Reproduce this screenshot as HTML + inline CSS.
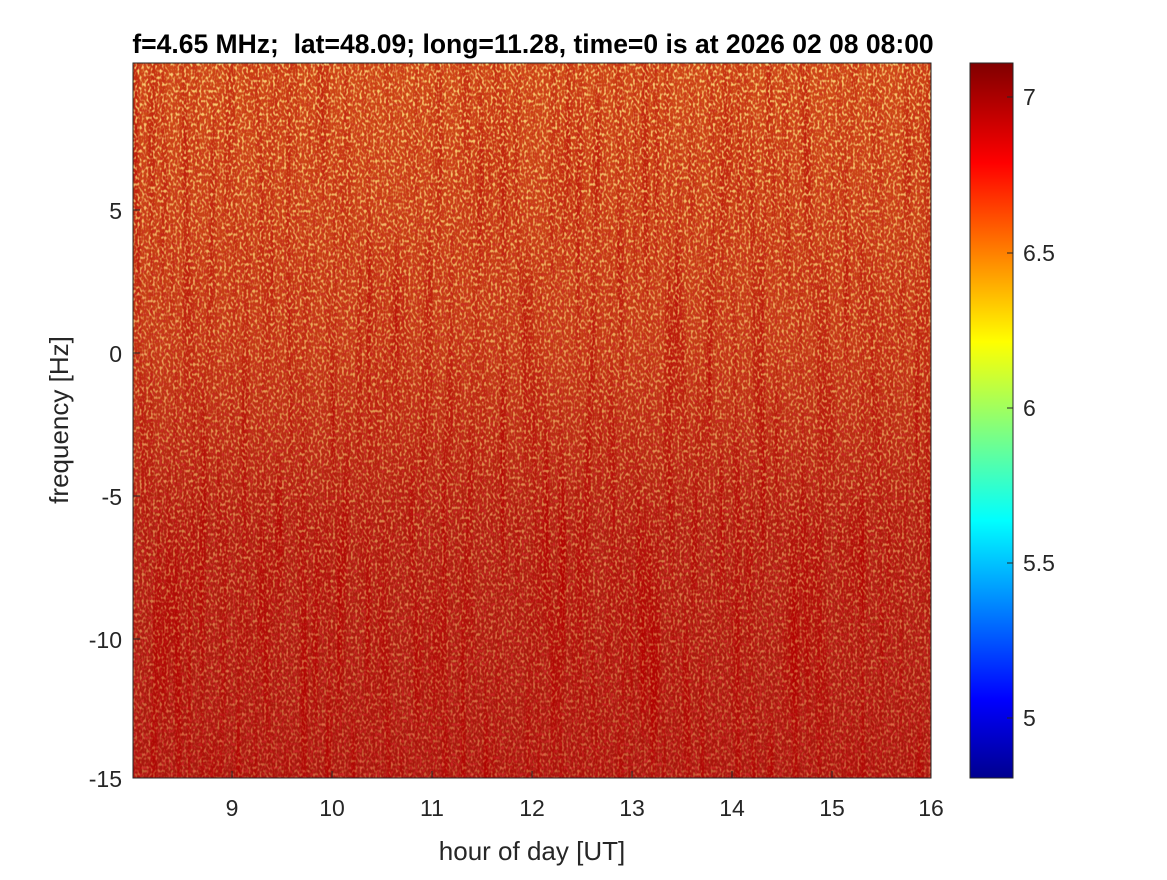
<!DOCTYPE html>
<html><head><meta charset="utf-8"><style>
html,body{margin:0;padding:0;background:#fff;}
svg text{font-family:"Liberation Sans",Arial,sans-serif;fill:#262626;}
</style></head><body>
<svg width="1167" height="875" xmlns="http://www.w3.org/2000/svg">
<defs>
<linearGradient id="bg" x1="0" y1="0" x2="0" y2="1">
<stop offset="0" stop-color="#d04c18"/>
<stop offset="0.4" stop-color="#c43c16"/>
<stop offset="0.65" stop-color="#ae2010"/>
<stop offset="1" stop-color="#a8180e"/>
</linearGradient>
<linearGradient id="jet" x1="0" y1="1" x2="0" y2="0">
<stop offset="0" stop-color="#00008f"/>
<stop offset="0.11" stop-color="#0000ff"/>
<stop offset="0.36" stop-color="#00ffff"/>
<stop offset="0.61" stop-color="#ffff00"/>
<stop offset="0.86" stop-color="#ff0000"/>
<stop offset="1" stop-color="#800000"/>
</linearGradient>
<linearGradient id="fade" x1="0" y1="0" x2="0" y2="1">
<stop offset="0" stop-color="#fff" stop-opacity="0.9"/>
<stop offset="0.5" stop-color="#fff" stop-opacity="0.6"/>
<stop offset="1" stop-color="#fff" stop-opacity="0.35"/>
</linearGradient>
<linearGradient id="fade2" x1="0" y1="0" x2="0" y2="1">
<stop offset="0" stop-color="#fff" stop-opacity="0.4"/>
<stop offset="0.6" stop-color="#fff" stop-opacity="0.8"/>
<stop offset="1" stop-color="#fff" stop-opacity="0.9"/>
</linearGradient>
<mask id="m"><rect x="133" y="63" width="798" height="715" fill="url(#fade)"/></mask>
<mask id="m2"><rect x="133" y="63" width="798" height="715" fill="url(#fade2)"/></mask>
<filter id="speck" x="0" y="0" width="100%" height="100%">
<feTurbulence type="fractalNoise" baseFrequency="0.45 0.3" numOctaves="1" seed="3"/>
<feColorMatrix type="matrix" values="0 0 0 0 1  0 0 0 0 0.72  0 0 0 0 0.2  4 0 0 0 -1.9"/>
</filter>
<filter id="speck2" x="0" y="0" width="100%" height="100%">
<feTurbulence type="fractalNoise" baseFrequency="0.45 0.3" numOctaves="1" seed="11"/>
<feColorMatrix type="matrix" values="0 0 0 0 0.6  0 0 0 0 0.02  0 0 0 0 0.02  4 0 0 0 -1.8"/>
</filter>
<filter id="streak" x="0" y="0" width="100%" height="100%">
<feTurbulence type="fractalNoise" baseFrequency="0.12 0.004" numOctaves="2" seed="7"/>
<feColorMatrix type="matrix" values="0 0 0 0 0.45  0 0 0 0 0  0 0 0 0 0  3 0 0 0 -1.4"/>
</filter>
</defs>
<rect x="133" y="63" width="798" height="715" fill="url(#bg)"/>
<rect x="133" y="63" width="798" height="715" filter="url(#speck2)" mask="url(#m2)"/>
<rect x="133" y="63" width="798" height="715" filter="url(#streak)" mask="url(#m2)"/>
<rect x="133" y="63" width="798" height="715" filter="url(#speck)" mask="url(#m)"/>
<rect x="133" y="63" width="798" height="715" fill="none" stroke="#262626" stroke-width="1"/>
<g stroke="#262626" stroke-width="1">
<line x1="232" y1="778" x2="232" y2="771"/><line x1="332" y1="778" x2="332" y2="771"/>
<line x1="432" y1="778" x2="432" y2="771"/><line x1="532" y1="778" x2="532" y2="771"/>
<line x1="632" y1="778" x2="632" y2="771"/><line x1="732" y1="778" x2="732" y2="771"/>
<line x1="832" y1="778" x2="832" y2="771"/>
<line x1="133" y1="210" x2="140" y2="210"/><line x1="133" y1="353" x2="140" y2="353"/>
<line x1="133" y1="496" x2="140" y2="496"/><line x1="133" y1="639" x2="140" y2="639"/>
</g>
<g font-size="23" text-anchor="middle">
<text x="232" y="816">9</text><text x="332" y="816">10</text><text x="432" y="816">11</text>
<text x="532" y="816">12</text><text x="632" y="816">13</text><text x="732" y="816">14</text>
<text x="832" y="816">15</text><text x="931" y="816">16</text>
</g>
<g font-size="23" text-anchor="end">
<text x="122" y="219">5</text><text x="122" y="362">0</text><text x="122" y="505">-5</text>
<text x="122" y="648">-10</text><text x="122" y="787">-15</text>
</g>
<text x="532" y="860" font-size="26" text-anchor="middle">hour of day [UT]</text>
<text transform="translate(68,420) rotate(-90)" font-size="26" text-anchor="middle">frequency [Hz]</text>
<text x="533" y="53" font-size="26.5" font-weight="bold" text-anchor="middle" xml:space="preserve" style="fill:#000;white-space:pre">f=4.65 MHz;  lat=48.09; long=11.28, time=0 is at 2026 02 08 08:00</text>
<rect x="970" y="63" width="43" height="715" fill="url(#jet)" stroke="#262626" stroke-width="1"/>
<g stroke="#262626"><line x1="1013" y1="97" x2="1007" y2="97"/><line x1="1013" y1="253" x2="1007" y2="253"/>
<line x1="1013" y1="408" x2="1007" y2="408"/><line x1="1013" y1="563" x2="1007" y2="563"/><line x1="1013" y1="718" x2="1007" y2="718"/></g>
<g font-size="23">
<text x="1023" y="105">7</text><text x="1023" y="261">6.5</text><text x="1023" y="416">6</text>
<text x="1023" y="571">5.5</text><text x="1023" y="726">5</text>
</g>
</svg>
</body></html>
